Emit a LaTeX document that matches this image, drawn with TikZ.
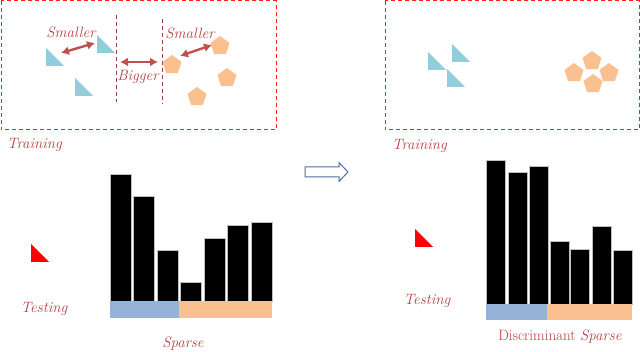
\documentclass[tikz,border=0pt]{standalone}
\usepackage{fontspec}
\usetikzlibrary{shapes.geometric,arrows.meta}

\definecolor{boxred}{HTML}{FF1E1E}
\definecolor{labred}{HTML}{B4403F}
\definecolor{arrred}{HTML}{C0504D}
\definecolor{triblue}{HTML}{92CDDC}
\definecolor{pentorange}{HTML}{FAC090}
\definecolor{stripblue}{HTML}{95B3D7}
\definecolor{hollowblue}{HTML}{4F6FA0}

\tikzset{
  lbl/.style={text=labred, font=\fontsize{15}{17}\selectfont\itshape, inner sep=0pt},
  trainbox/.style={draw=boxred, dash pattern=on 4pt off 3pt, line width=1pt},
  sepline/.style={draw=arrred!80!black, dash pattern=on 4pt off 3pt, line width=0.8pt},
  dist/.style={draw=arrred, line width=2.4pt, {Latex[length=8pt,width=9pt]}-{Latex[length=8pt,width=9pt]}},
  pent/.style={regular polygon, regular polygon sides=5, fill=pentorange, minimum size=20pt, inner sep=0pt},
  bar/.style={fill=black, draw=gray!50, line width=0.6pt},
}

% right triangle, corner at top-left of its box
\newcommand\shardtri[3]{\fill[#3] (#1,#2) -- ++(0,18) -- ++(18,0) -- cycle;}

\begin{document}
\begin{tikzpicture}[x=1pt,y=-1pt]
  \useasboundingbox (0,0) rectangle (640,352);

  % ---- left training box ----
  \draw[trainbox] (1,1) rectangle (276,130);
  \shardtri{46}{48}{triblue}
  \shardtri{97}{35}{triblue}
  \shardtri{75}{78}{triblue}
  \draw[sepline] (116,15) -- (116,102);
  \draw[sepline] (162,19) -- (162,104);
  \node[pent] (p1) at (172,65) {};
  \node[pent] (p2) at (220,46) {};
  \node[pent] (p3) at (227,78) {};
  \node[pent] (p4) at (197,97) {};
  % distances
  \coordinate (s1a) at (61,53);
  \coordinate (s1b) at (95,43);
  \coordinate (ba) at (120,62);
  \coordinate (bb) at (158,62);
  \coordinate (s2a) at (180,56);
  \coordinate (s2b) at (212,45);
  \draw[dist] (s1a) -- (s1b);
  \draw[dist] (ba) -- (bb);
  \draw[dist] (s2a) -- (s2b);
  \node[lbl] (small1) at (71,32) {Smaller};
  \node[lbl] (big) at (138,77) {Bigger};
  \node[lbl] (small2) at (190,33) {Smaller};
  \node[lbl, anchor=west] (train1) at (7,145) {Training};

  % ---- right training box ----
  \draw[trainbox] (385,1) rectangle (639,130);
  \shardtri{428}{52}{triblue}
  \shardtri{452}{44}{triblue}
  \shardtri{447}{69}{triblue}
  \node[pent] (q1) at (574,73) {};
  \node[pent] (q2) at (592,61) {};
  \node[pent] (q3) at (609,73) {};
  \node[pent] (q4) at (593,84) {};
  \node[lbl, anchor=west] (train2) at (392,146) {Training};

  % ---- hollow arrow ----
  \draw[hollowblue, line width=1pt, line join=miter]
    (305,167) -- (339,167) -- (339,162.5) -- (348,172) -- (339,181.5) -- (339,177) -- (305,177) -- cycle;

  % ---- left testing ----
  \shardtri{31}{244}{red}
  \node[lbl] (test1) at (44,309) {Testing};
  \foreach \x/\t in {110/174,133/196,157/250,180/282,204/238,227/225,251/222}{
    \draw[bar] (\x,\t) rectangle ++(21,301-\t);
  }
  \fill[stripblue] (110,301) rectangle (179,318);
  \fill[pentorange] (179,301) rectangle (272,318);
  \node[lbl] (sparse1) at (183,344) {Sparse};

  % ---- right testing ----
  \shardtri{415}{229}{red}
  \node[lbl] (test2) at (427,301) {Testing};
  \foreach \x/\t in {486/160,508/172,529/166,550/241,570/249,592/226,613/250}{
    \draw[bar] (\x,\t) rectangle ++(19,304-\t);
  }
  \fill[stripblue] (486,304) rectangle (547,320);
  \fill[pentorange] (547,304) rectangle (632,320);
  \node[lbl] (sparse2) at (560,337) {\upshape Discriminant \itshape Sparse};
\end{tikzpicture}
\end{document}
